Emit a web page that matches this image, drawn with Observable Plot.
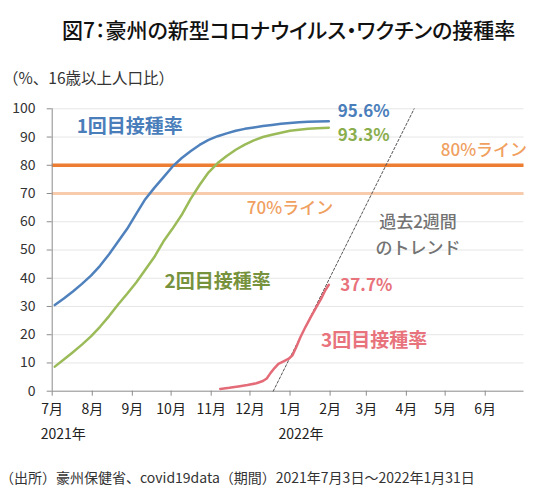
<!DOCTYPE html>
<html><head><meta charset="utf-8">
<script src="https://cdn.jsdelivr.net/npm/d3@7"></script>
<script src="https://cdn.jsdelivr.net/npm/@observablehq/plot@0.6"></script>
<style>
body{margin:0;background:#fff;font-family:"Noto Sans CJK JP",sans-serif;}
#wrap{position:relative;width:540px;height:498px;overflow:hidden;background:#fff;}
.t{position:absolute;white-space:nowrap;line-height:1;color:#111;}
</style></head><body>
<div id="wrap">
<div class="t" id="title" style="top:19px;left:62px;font-size:21px;font-weight:500;font-feature-settings:'palt';">図7：豪州の新型コロナウイルス・ワクチンの接種率</div>
<div class="t" id="sub" style="top:70px;left:3px;font-size:15.5px;color:#333">（%、16歳以上人口比）</div>
<div id="chart" style="position:absolute;top:90px;left:0"></div>
<div class="t" id="cap" style="top:470px;left:0px;font-size:14px;color:#333">（出所）豪州保健省、covid19data（期間）2021年7月3日～2022年1月31日</div>
</div>
<script>
// ---- data ----
const weekDates = ["2021-07-03","2021-07-10","2021-07-17","2021-07-24","2021-07-31","2021-08-07","2021-08-14","2021-08-21","2021-08-28","2021-09-04","2021-09-11","2021-09-18","2021-09-25","2021-10-02","2021-10-09","2021-10-16","2021-10-23","2021-10-30","2021-11-06","2021-11-13","2021-11-20","2021-11-27","2021-12-04","2021-12-11","2021-12-18","2021-12-25","2022-01-01","2022-01-08","2022-01-15","2022-01-22","2022-01-31"];
const dose1 = [30.5,32.8,35.3,38.0,40.9,44.4,48.5,53.0,57.5,62.8,68.0,72.0,75.7,79.5,82.5,85.0,87.2,89.0,90.3,91.3,92.2,92.9,93.4,93.9,94.3,94.7,95.0,95.2,95.4,95.5,95.6];
const dose2 = [8.7,11.2,13.8,16.5,19.4,22.8,26.6,30.7,34.5,38.5,43.0,47.5,53.0,57.5,62.3,68.0,73.0,77.5,80.8,83.3,85.5,87.3,88.8,90.0,90.8,91.5,92.2,92.6,92.9,93.1,93.3];
const dose3Dates = ["2021-11-08","2021-11-15","2021-11-22","2021-11-29","2021-12-06","2021-12-11","2021-12-14","2021-12-17","2021-12-20","2021-12-23","2021-12-27","2021-12-31","2022-01-03","2022-01-06","2022-01-09","2022-01-13","2022-01-17","2022-01-21","2022-01-25","2022-01-28","2022-01-31"];
const dose3 = [0.8,1.2,1.7,2.2,2.8,3.6,4.5,6.5,8.2,9.7,10.6,11.5,12.8,15.8,19.1,22.8,26.2,29.5,32.7,35.5,37.7];
const trendDates = ["2021-12-19","2022-04-07"];
const trendValues = [0,100];
const refLines = [80,70];
const monthTicks = ["2021-07-01","2021-08-01","2021-09-01","2021-10-01","2021-11-01","2021-12-01","2022-01-01","2022-02-01","2022-03-01","2022-04-01","2022-05-01","2022-06-01"];
const monthLabels = ["7月","8月","9月","10月","11月","12月","1月","2月","3月","4月","5月","6月"];
const yearTicks = ["2021-07-01","2022-01-01"];
const yearLabels = ["2021年","2022年"];
const yTicks = [0,10,20,30,40,50,60,70,80,90,100];
const seriesLabels = [
  {key:"d1", text:"1回目接種率", date:"2021-08-30", value:93.7},
  {key:"d2", text:"2回目接種率", date:"2021-11-06", value:38.7},
  {key:"d3", text:"3回目接種率", date:"2022-03-07", value:17.9}
];
const endLabels = [
  {key:"d1", text:"95.6%", date:"2022-02-27", value:99.0},
  {key:"d2", text:"93.3%", date:"2022-02-27", value:90.5},
  {key:"d3", text:"37.7%", date:"2022-03-01", value:37.4}
];
const lineLabels = [
  {text:"80%ライン", date:"2022-05-31", value:85.2},
  {text:"70%ライン", date:"2022-01-01", value:64.7}
];
const trendLabels = [
  {text:"過去2週間", date:"2022-04-10", value:59.6},
  {text:"のトレンド", date:"2022-04-10", value:50.5}
];

// ---- build ----
const P = s => new Date(s);
const rows1 = weekDates.map((d,i)=>({date:P(d), v:dose1[i]}));
const rows2 = weekDates.map((d,i)=>({date:P(d), v:dose2[i]}));
const rows3 = dose3Dates.map((d,i)=>({date:P(d), v:dose3[i]}));
const trend = trendDates.map((d,i)=>({date:P(d), v:trendValues[i]}));
const mLab = new Map(monthTicks.map((d,i)=>[+P(d), monthLabels[i]]));
const years = yearTicks.map((d,i)=>({date:P(d), text:yearLabels[i]}));
const fix = arr => arr.map(d=>({...d, date:P(d.date)}));

const lineColor = {d1:"#4F81BD", d2:"#9BBB59", d3:"#E46C78"};
const textColor = {d1:"#4A7EBB", d2:"#76923C", d3:"#E8737C"};
const pctColor  = {d1:"#4A7EBB", d2:"#8AAE4E", d3:"#E8737C"};
const font = '"Noto Sans CJK JP", sans-serif';

const plot = Plot.plot({
  width:540, height:370,
  marginLeft:51.7, marginRight:16.5, marginTop:18.3, marginBottom:69.3,
  style:{fontFamily:font, background:"transparent", overflow:"visible"},
  x:{type:"utc", domain:[P("2021-07-01"), P("2022-07-01")]},
  y:{domain:[0,100]},
  marks:[
    Plot.gridY(yTicks.filter(v=>v>0), {stroke:"#e6e6e6", strokeOpacity:1}),
    Plot.ruleY([refLines[1]], {stroke:"#F8CBAD", strokeWidth:3}),
    Plot.ruleY([refLines[0]], {stroke:"#ED7D31", strokeWidth:3.5}),
    Plot.ruleY([0], {stroke:"#8c8c8c"}),
    Plot.ruleX([P(monthTicks[0])], {y1:0, y2:100, stroke:"#8c8c8c"}),
    Plot.axisY({ticks:yTicks, tickSize:5, tickPadding:11.7, fontSize:14, stroke:"#8c8c8c", fill:"#333", label:null}),
    Plot.axisX({ticks:monthTicks.map(P), tickFormat:d=>mLab.get(+d), tickSize:5, tickPadding:8, fontSize:14, stroke:"#8c8c8c", fill:"#222", label:null}),
    Plot.text(years, {x:"date", y:()=>0, text:"text", dy:43, dx:-11.5, textAnchor:"start", fontSize:14, fill:"#222"}),
    Plot.line(trend, {x:"date", y:"v", stroke:"#555", strokeWidth:1, strokeDasharray:"2.5,2"}),
    Plot.line(rows2, {x:"date", y:"v", stroke:lineColor.d2, strokeWidth:2.5}),
    Plot.line(rows1, {x:"date", y:"v", stroke:lineColor.d1, strokeWidth:2.5}),
    Plot.line(rows3, {x:"date", y:"v", stroke:lineColor.d3, strokeWidth:2.5}),
    Plot.text(fix(seriesLabels), {x:"date", y:"value", text:"text", fill:d=>textColor[d.key], fontSize:19, fontWeight:"bold", ariaLabel:"series-label"}),
    Plot.text(fix(endLabels), {x:"date", y:"value", text:"text", fill:d=>pctColor[d.key], fontSize:17, fontWeight:"bold", ariaLabel:"pct-label"}),
    Plot.text(fix(lineLabels), {x:"date", y:"value", text:"text", fill:"#F0A05F", fontSize:17, fontWeight:"500"}),
    Plot.text(fix(trendLabels), {x:"date", y:"value", text:"text", fill:"#737373", fontSize:17, fontWeight:"500"})
  ]
});
d3.select(plot).selectAll('g[aria-label="series-label"] text').attr("letter-spacing", 3);
d3.select(plot).selectAll('g[aria-label="pct-label"] text').attr("letter-spacing", 0.5);
document.getElementById("chart").appendChild(plot);
</script>
</body></html>
